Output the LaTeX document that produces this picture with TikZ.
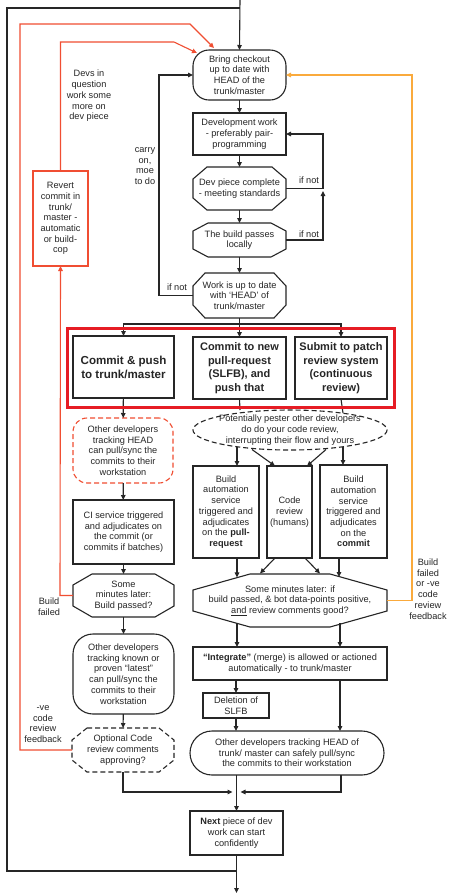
\documentclass[tikz,border=0pt]{standalone}
\usepackage{fontspec}
\setmainfont{Liberation Sans}
\usetikzlibrary{arrows.meta,calc}
\definecolor{ink}{RGB}{38,38,38}
\definecolor{redline}{RGB}{240,78,50}
\definecolor{redbox}{RGB}{230,28,36}
\definecolor{orangeline}{RGB}{250,170,60}
\newcommand\fs{\fontsize{9.2}{10.7}\selectfont}
\newcommand\fb{\fontsize{11}{13.6}\selectfont\bfseries}
\newcommand\octbox[4][]{%
  \draw[boxline,#1] ($(#2.north west)+(#3,0)$) -- ($(#2.north east)+(-#3,0)$)
    -- ($(#2.north east)+(0,#4)$) -- ($(#2.south east)+(0,-#4)$)
    -- ($(#2.south east)+(-#3,0)$) -- ($(#2.south west)+(#3,0)$)
    -- ($(#2.south west)+(0,-#4)$) -- ($(#2.north west)+(0,#4)$) -- cycle;}
\begin{document}
\begin{tikzpicture}[x=1pt,y=-1pt,
  boxline/.style={draw=ink,line width=1.1pt},
  dashline/.style={dash pattern=on 5pt off 3pt},
  box/.style={boxline,align=center,inner sep=0pt,outer sep=0pt,font=\fs,text=ink},
  plain/.style={align=center,inner sep=0pt,outer sep=0pt,font=\fs,text=ink},
  lbl/.style={align=center,inner sep=0pt,font=\fs,text=ink},
  line/.style={draw=ink,line width=1.1pt},
  arr/.style={line,-{Triangle[length=5pt,width=4.5pt]}},
  redarr/.style={draw=redline,line width=1.1pt,-{Triangle[length=5pt,width=4.5pt]}},
  orarr/.style={draw=orangeline,line width=1.1pt,-{Triangle[length=5pt,width=4.5pt]}}]
\useasboundingbox (0,0) rectangle (454,895);
\fill[white] (0,0) rectangle (454,895);

% ---- main column top
\node[box,rounded corners=16pt,minimum width=93pt,minimum height=50pt] (bring) at (239.5,75) {Bring checkout\\up to date with\\HEAD of the\\trunk/master};
\node[box,minimum width=93pt,minimum height=42pt] (dev) at (239.5,134) {Development work\\- preferably pair-\\programming};
\node[plain,minimum width=93pt,minimum height=43pt] (devpiece) at (239.5,188.5) {Dev piece complete\\- meeting standards};
\octbox{devpiece}{14}{12}
\node[plain,minimum width=93pt,minimum height=34pt] (build) at (239.5,240) {The build passes\\locally};
\octbox{build}{15}{8}
\node[plain,minimum width=93pt,minimum height=45pt] (work) at (239.5,295.5) {Work is up to date\\with ‘HEAD’ of\\trunk/master};
\octbox{work}{12}{13}

% ---- the three options
\node[plain,minimum width=101pt,minimum height=62pt,font=\fontsize{11.6}{14}\selectfont\bfseries] (commit) at (123.5,367) {Commit \& push\\to trunk/master};
\draw[boxline] (commit.north west) rectangle (commit.south east);
\node[box,minimum width=93pt,minimum height=62pt,font=\fb] (pr) at (239.5,368) {Commit to new\\pull-request\\(SLFB), and\\push that};
\node[box,minimum width=92pt,minimum height=62pt,font=\fb] (submit) at (341,368) {Submit to patch\\review system\\(continuous\\review)};

% ---- left column
\node[box,draw=redline,dashline,rounded corners=14pt,minimum width=100pt,minimum height=65pt] (reddash) at (123,450.5) {Other developers\\tracking HEAD\\can pull/sync the\\commits to their\\workstation};
\node[box,minimum width=101pt,minimum height=64pt] (ci) at (123.5,532) {CI service triggered\\and adjudicates on\\the commit (or\\commits if batches)};
\node[plain,minimum width=101pt,minimum height=43pt] (bp) at (123.5,595.5) {Some\\minutes later:\\Build passed?};
\octbox{bp}{19}{11}
\node[box,rounded corners=20pt,minimum width=101pt,minimum height=80pt] (known) at (123.5,674) {Other developers\\tracking known or\\proven “latest”\\can pull/sync the\\commits to their\\workstation};
\node[plain,minimum width=102pt,minimum height=44pt] (opt) at (123,750) {Optional Code\\review comments\\approving?};
\octbox[dashline]{opt}{15}{12}

% ---- right column
\node[plain,minimum width=194pt,minimum height=40pt] (ell) at (290,430) {Potentially pester other developers\\do do your code review,\\interrupting their flow and yours};
\draw[boxline,dashline] (ell.center) ellipse [x radius=97, y radius=20];
\node[box,minimum width=66pt,minimum height=92pt] (ba1) at (226,512) {Build\\automation\\service\\triggered and\\adjudicates\\on the \textbf{pull-}\\\textbf{request}};
\node[box,minimum width=45pt,minimum height=92pt] (cr) at (289.5,512) {Code\\review\\(humans)};
\node[box,minimum width=67pt,minimum height=93pt] (ba2) at (353.5,511.5) {Build\\automation\\service\\triggered and\\adjudicates\\on the\\\textbf{commit}};
\node[plain,minimum width=194pt,minimum height=53pt] (big) at (290,600.5) {Some minutes later: if\\build passed, \& bot data-points positive,\\\underline{and} review comments good?};
\octbox{big}{57}{16}
\node[box,minimum width=194pt,minimum height=33pt] (integ) at (290,663.5) {\textbf{“Integrate”} (merge) is allowed or actioned\\automatically - to trunk/master};
\node[box,minimum width=66pt,minimum height=25pt] (del) at (236,705.5) {Deletion of\\SLFB};
\node[box,rounded corners=22pt,minimum width=194pt,minimum height=44pt] (head) at (287,753) {Other developers tracking HEAD of\\trunk/ master can safely pull/sync\\the commits to their workstation};
\node[box,minimum width=93pt,minimum height=44pt] (next) at (236.5,833) {\textbf{Next} piece of dev\\work can start\\confidently};

% ---- red revert box
\node[box,draw=redline,minimum width=55pt,minimum height=95pt] (revert) at (60.5,218.5) {Revert\\commit in\\trunk/\\master -\\automatic\\or build-\\cop};

% ---- labels
\node[lbl] (ldevs) at (89,96) {Devs in\\question\\work some\\more on\\dev piece};
\node[lbl] (lcarry) at (145,166) {carry\\on,\\moe\\to do};
\node[lbl] (lif1) at (309,180) {if not};
\node[lbl] (lif2) at (309,234) {if not};
\node[lbl] (lif3) at (177,287) {if not};
\node[lbl] (lbf) at (49,607) {Build\\failed};
\node[lbl] (lneg) at (43,724) {-ve\\code\\review\\feedback};
\node[lbl] (lor) at (428,589) {Build\\failed\\or -ve\\code\\review\\feedback};

% ---- coordinates
\coordinate (topin) at (240,0);
\coordinate (ltr) at (240,8);
\coordinate (ltl) at (7,8);
\coordinate (lbl) at (7,871);
\coordinate (lbr) at (236.5,871);
\coordinate (outp) at (236.5,893);
\coordinate (sp) at (239.5,324);
\coordinate (join) at (236.5,792);

% ---- black connectors, top part
\draw[arr] (topin) -- (bring.north);
\draw[line] (lbr) -- (lbl) -- (ltl) -- (ltr);
\draw[arr] (bring) -- (dev);
\draw[arr] (dev) -- (devpiece);
\draw[arr] (devpiece) -- (build);
\draw[arr] (build) -- (work);
\draw[arr] (devpiece.east) -- ++(37,0) |- (dev.east);
\draw[arr] (build.east) -- ++(37,0) -- ++(0,-49);
\draw[arr] (work.west) -- ++(-34,0) |- (bring.west);
\draw[line] (work.south) -- (sp);
\draw[arr] (sp) -| (commit.north);
\draw[arr] (sp) -| (submit.north);
\draw[arr] (sp) -- (pr.north);

% ---- left column connectors
\draw[arr] (commit) -- (reddash);
\draw[arr] (reddash) -- (ci);
\draw[arr] (ci) -- (bp);
\draw[arr] (bp) -- (known);
\draw[arr] (known) -- (opt);
\draw[arr] (opt.south) |- ([xshift=-4pt]join);

% ---- right column connectors
\draw[line] (pr.south) -- ($(ell.center)+(-50,-20)$);
\draw[line] (submit.south) -- ($(ell.center)+(53,-17)$);
\draw[arr] ($(ell.center)+(-53,17)$) -- ([xshift=11pt]ba1.north);
\draw[arr] ($(ell.center)+(-38,19.5)$) -- ([xshift=-14.5pt]cr.north);
\draw[arr] ($(ell.center)+(36,19.5)$) -- ([xshift=17.5pt]cr.north);
\draw[arr] ($(ell.center)+(53,17)$) -- ([xshift=-10.5pt]ba2.north);
\draw[arr] ([xshift=11pt]ba1.south) -- ($(big.north)+(-53,3.4)$);
\draw[arr] ([xshift=-14.5pt]cr.south) -- ($(big.north)+(-30,-0.5)$);
\draw[arr] ([xshift=15.5pt]cr.south) -- ($(big.north)+(30,-0.5)$);
\draw[arr] ([xshift=-14.5pt]ba2.south) -- ($(big.north)+(49,3)$);
\draw[arr] ($(big.south)+(-53,-4)$) -- ([xshift=-53pt]integ.north);
\draw[arr] ($(big.south)+(50,-4)$) -- ([xshift=50pt]integ.north);
\draw[arr] ([xshift=-54pt]integ.south) -- (del.north);
\draw[arr] ([xshift=50pt]integ.south) -- ([xshift=53pt]head.north);
\draw[arr] (del) -- ([xshift=-51pt]head.north);
\draw[arr] ([xshift=-50.5pt]head.south) -- (next.north);
\draw[arr] ([xshift=54pt]head.south) |- ([xshift=4pt]join);
\draw[arr] (next) -- (outp);

% ---- red and orange feedback
\draw[redarr] (opt.west) -- ++(-52,0) |- (190,24) -- ($(bring.north west)+(21,-2)$);
\draw[redarr] (revert.north) |- (174,42) -- ($(bring.north west)+(4,3)$);
\draw[redarr] (bp.west) -- ++(-13,0) -- (revert.south);
\draw[orarr] (big.east) -- ++(25,0) |- (bring.east);

% ---- highlight box
\node[draw=redbox,line width=3pt,minimum width=327pt,minimum height=79pt,inner sep=0pt] (group) at (230.5,367.5) {};
\end{tikzpicture}
\end{document}
